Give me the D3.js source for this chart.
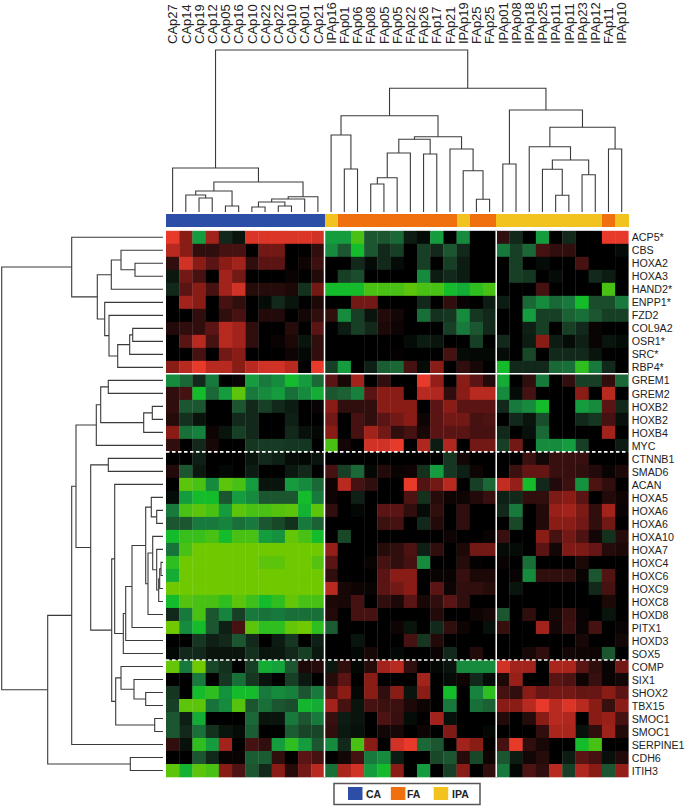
<!DOCTYPE html>
<html>
<head>
<meta charset="utf-8">
<script src="https://cdn.jsdelivr.net/npm/d3@7"></script>
<style>
  html, body { margin: 0; padding: 0; background: #fff; }
  svg { display: block; }
  text { font-family: "Liberation Sans", Arial, sans-serif; fill: #222; }
</style>
</head>
<body>
<div id="viz"></div>
<script>
const colLabels = ["CAp27","CAp14","CAp19","CAp12","CAp05","CAp16","CAp10","CAp22","CAp22","CAp10","CAp01","CAp21",
  "IPAp16","FAp01","FAp06","FAp08","FAp05","FAp05","FAp22","FAp26","FAp17","FAp21","IPAp19","FAp25","FAp25",
  "IPAp01","IPAp08","IPAp18","IPAp25","IPAp11","IPAp11","IPAp23","IPAp12","FAp11","IPAp10"];

const colGroups = ["CA","CA","CA","CA","CA","CA","CA","CA","CA","CA","CA","CA",
  "IPA","FA","FA","FA","FA","FA","FA","FA","FA","FA","IPA","FA","FA",
  "IPA","IPA","IPA","IPA","IPA","IPA","IPA","IPA","FA","IPA"];

const rowLabels = ["ACP5*","CBS","HOXA2","HOXA3","HAND2*","ENPP1*","FZD2","COL9A2","OSR1*","SRC*","RBP4*",
  "GREM1","GREM2","HOXB2","HOXB2","HOXB4","MYC",
  "CTNNB1","SMAD6","ACAN","HOXA5","HOXA6","HOXA6","HOXA10","HOXA7","HOXC4","HOXC6","HOXC9","HOXC8","HOXD8","PITX1","HOXD3","SOX5",
  "COMP","SIX1","SHOX2","TBX15","SMOC1","SMOC1","SERPINE1","CDH6","ITIH3"];

// expression per gene, red up / green down
const heatValues = [
  [5,3,-4,3.5,-1,-0.5,4.7,4.7,4.7,4.7,4.7,4.5, -4,-4,-6,-2,-2,-2.5,-0.7,-0.3,-4,0,-3.5,0,0, 1,-1,0,-4,0,-1,0,0,5,5],
  [4,3,1,1,1.5,1.5,0,2.5,2.5,0,0,1, -3.5,-2,-5,-2,-1,-1.5,0,-1.5,-1,-2,-1,0,0, -3,-1.5,-2.5,1.5,1,1,0,0,0,-0.3],
  [1,4.5,3,2,3,3.5,1,2,2,0,0.3,1.3, 0,0,-1,-0.3,-1,-0.3,0,-1.5,0,-1.5,-0.7,0,0, 0,-1.5,0,-0.3,0,0,1.5,0,0,0],
  [-0.6,2.5,1.5,0,3.5,2.5,0,0,0,0.2,0,0.7, 0,-1.5,-1.8,0,0,0,0,-3.5,-0.7,-1,-0.7,0,0, 0,-1.5,-1.3,0,-0.3,0,0,-1,-0.7,0],
  [-1,2,3,1.5,3.5,4.5,0.8,0.8,0.8,0.6,-1.2,2.5, -5,-5,-5,-6,-6,-6,-6.5,-6,-6,-5,-4.5,-5.5,-6, 0,0,0,1.5,0,0,0,0,-6,0],
  [0,3.5,3,0,1.5,1,0,-0.3,-1,-0.5,0,0.6, 0,0,2.5,2.5,0,0,0,-1,0,1,0.2,0,-0.7, -0.7,0,-2.5,-3.5,-2.5,-3,-5,-1.8,-1.8,-3],
  [0,0,1,0,1,1.5,0,0.7,0.7,0,0.4,1, 1,-3.5,-1.5,-0.5,0.7,0.4,0,-2.7,-1.2,-1.3,-3.5,-1.3,-1, 0,0,-4,-1.5,-1.5,-2.3,-2.7,-2,-1.5,-1.5],
  [0.7,1,1,2,4,3.5,1,0,0,0.8,0,2, 0,-0.7,-1.5,-1,0.6,0.3,0,0,0,-1.5,-3,-2,-1, 0,0,-0.8,-1.5,0,-1.5,-1,0.2,0,0],
  [0,2,4,1.5,4,3.5,1,0,0.2,0.6,-0.5,1, 0,0,0,0,0,0,-0.3,-0.7,-0.5,0,0,-1.5,0, -1,0,-0.7,3,-0.7,-0.3,-0.8,0.2,-0.5,-0.3],
  [0,0,1.5,0,2.5,3,0,0,0,0.3,-0.2,1, 0,0,0,0,0,0.1,0,0,0,1.5,-0.3,-0.2,-0.2, -0.3,0,-1.7,0,-1,-1,-1,-0.5,0,0],
  [3,4,5,4,4,3,4,4.5,4.5,4,0,5, -1.5,-4,0,-0.8,-2.2,-2.5,1.5,-0.3,3,0,1,0.5,0, -5,-1,-1,-1,-2.5,-2.7,-5.5,-3,-1,0],
  [-3.5,-2.5,-1,-3,0,0.2,-4,-3,-3.5,-5,-4,-2.5, 2,0.5,3.5,0,1,0,0,5,3.2,0,3,2,0.7, -4.5,0,1,-3,0,1,-1.5,-1.5,1,-2.5],
  [1,1.5,-5,-2.5,-4,-6.5,-3,-3.5,-4,-2.7,-3.5,-4.5, -2,-2.3,-3.2,2,3,3,0,4,3.8,1,3,4,4, -3.5,-0.3,1.5,0,0,0,3,0,4,0],
  [1,-2,-2,0,0,-2,-1,-1.5,-1,-0.7,0,0.2, 3,1,1,1,3,3,3,0,2,3,2,2,2, -1,-3,-3.5,-5,0,0,-4,-3.5,2,-1],
  [0.8,-1.2,-0.5,0,0,-1,-1,0,0,-0.8,0,0, 2.5,0,1.5,1,2,2.5,3,0.3,2,2.5,2.5,1.5,1.7, 0,-1,-0.5,-1.8,0,0,-1,-1.3,1.5,-0.4],
  [3,-2.7,-3.2,0.3,-0.5,-1.5,-1,0,0,-1,-0.4,-0.2, 3,0,1.5,3.5,2.5,1,1.5,0.5,2,2,2,1.5,1.5, -1,0,-0.4,-2.5,0,0,0,0,3.5,0],
  [1,0,-1,0.5,0,0,-1.3,-1.4,-1.4,-1.3,-1.3,0, -6,0.4,0,4.5,4.5,5,0,3.8,-0.7,3.8,0,2.5,2.5, -1.5,2.5,0,-3.5,-3.5,-4,-1.5,0,0,-0.7],
  [0,0,-0.8,0,0,0,-0.5,-1,-0.8,-0.3,-0.2,-0.5, 0,0,0,0,0,0,0,0,0,-1.3,0.4,0,0, 0,0,1.3,0.4,1.2,1.2,1.2,0,0,0],
  [0.7,-2,-0.6,0,-0.2,0,-0.7,0,0,-0.6,-1,0, 1.5,-1.5,-2.5,-0.2,0.7,0.2,0.3,-1.2,-4,-1.3,-0.8,0.3,0, 0,1.3,2.2,2.2,1.2,1.2,1,0.7,0.2,0.6],
  [0,-6.5,-6,-3.5,-6.5,-6,-4,-0.5,-0.5,-4,-3.5,-2.5, 0.3,4,1.5,1,0,0,5,1.8,2.5,4,0,-1.5,-2.5, 4.2,3.2,-5,-1,0.7,1.3,-3.7,1.7,1,0],
  [-0.3,-4,-5,-5,-2,-4,-3.5,-2,-2,-2,-5,-3, 0.3,0,-0.8,0,0,0,1.7,-1.2,0.8,0.3,0.3,0.7,1.2, -0.8,-1,1,1,2.7,3,2,0,0.7,0.3],
  [-3,-6,-6.5,-6,-4,-6.5,-6,-6,-6.3,-6.5,-4.7,-6.5, 1,0,-0.2,0,2,2,1,-0.3,1,0,1,0,0, -1,-3,0,0.7,3.3,3.5,2.7,1,3.5,0.2],
  [-2,-2,-3,-3,-3.3,-2.7,-3,-2,-1.7,-1.2,-3,-2.3, 0,0,0,0,1.3,1.5,0,-1,0.7,0,1,0,0, 0,-1.7,0,0.7,3,3,2.5,1,2.5,0],
  [-5,-5.7,-5.7,-6,-5,-6,-6,-4,-3.7,-6.7,-6,-5, 0,-1.7,0,0,0,0,0,0,0,0.3,0,0,0.2, 1.2,0,0,3,1.5,2.5,1.7,0.4,-1.2,0.8],
  [-2.8,-6,-7,-7,-7,-7,-7,-7,-7,-7,-7,-7, 3.2,0,0,0,0.8,1,1.7,-0.8,1,0,0.6,2.5,2.5, -0.3,-0.3,0,2,0.4,2.8,2.7,2.3,0.8,0.6],
  [-5.5,-7,-7,-7,-7,-7,-7,-6.5,-6.5,-7,-7,-6.3, 2,0,0,0.2,1.5,1,1.5,-3.5,0,0,0.8,0.1,0, 0.2,0,-2.7,0,0,0,0.6,0,0,0],
  [-4.5,-7,-7,-7,-7,-7,-7,-7,-7,-7,-7,-7, 1,0,0,0,2,3,3,0,0.2,0.2,1.2,0.6,0.6, 0,0.2,-3.5,1,1,1,0.2,-2,1.8,0],
  [-7,-7,-7,-7,-7,-7,-7,-7,-7,-7,-7,-7, 4,0.5,0.3,0.2,2,2.5,3,0,2,0.3,1,1,0.8, 0,-0.5,0,0,0,0,0,-1,1.5,0],
  [-5,-6.3,-6,-6,-5.5,-6.5,-5.8,-5,-5.5,-6.7,-6,-6, 0.6,0.5,1.5,0,1,0.6,2,0.5,1,2,1,0,0, 0,0,0,0,0,0,0,0,0.6,0],
  [-1,-3,-6,-2,-3.3,-1.5,-3,-2.8,-3,-2.7,-2.7,-2.7, 0.7,0,1.5,1.5,0,0,0,0,0.7,0,0,0.3,0.5, -2,0,1,0,0.5,1.2,0.2,0,-0.5,0],
  [-7,-3.5,-5,-2,-0.8,1.5,-6.5,-5.5,-5.5,-6.7,-7,-5.5, -2.2,0,0,0,0,0.3,-0.5,0,-1,1,0.3,0,-0.4, 1.2,0,0,3.5,0.4,1.3,0.2,1.5,0,0.2],
  [0,0,-1.3,-0.8,-1,-2,-1,0,-0.7,-1.3,0,-0.8, 0,0,-0.5,0,0,0,1.5,-1.3,0.7,0,0,0,0, 0,0,0,0,0,0,0.5,0,0,0.4],
  [-0.2,-1,-1,-0.5,-0.5,-0.5,-1.2,-0.5,-0.6,-1,-1.5,-0.6, 0,0,-0.2,0.5,0,-0.2,0,0,0.2,-1,0,0.7,0, 0,0,0.5,1,0,0.4,0.3,0.3,-2,0],
  [-6.7,-3,-7,-1.7,-1.2,0,-1.5,-4.5,-4.2,-2,0.6,0.8, -0.6,1,-0.2,0.8,3.5,4,1,0,-0.2,-0.5,-3.5,-3.5,-3.5, 4.5,3.5,3.5,0,3.7,3.7,2,1,0.2,2.5],
  [0,0,-3,0,-1.3,-2.7,-1.3,-0.5,0,-1.5,-0.6,0, 0.8,2,0,3,0,0,0,3.5,0,-0.3,0.3,-1,-0.3, 0.6,3.3,0,0,2,1.7,0.3,1.2,0.2,0.4],
  [-1.3,0,-5,-5.5,-3.7,-5,-5,-3,-3.5,-3.2,-2,-3, 1.7,3,-0.2,3,1,3,-0.5,3,0,-5,0,-3.3,-5.5, 1.5,1,3,2.3,2.5,2.5,2.2,2.3,3,2],
  [-1.5,-6.5,-6.5,-2.8,-3.5,-6.3,-2,-2.7,-2,-1.8,-4.8,-4.5, 3.5,1.5,-0.5,1.5,1.3,1.3,0.6,0.3,0,-3,0,-2.7,-2.3, 3,3,4,5,4,4.7,4,3,1.2,3],
  [-2,-0.8,-4.5,0,0,0,-2.5,-0.5,-0.5,-3,-2,-3, 1.2,-0.7,-0.5,0,1.7,1.2,-0.3,0,3.5,-0.4,0,0,0, 0.7,0,0.8,3,4,3.8,0,3,3.3,1.5],
  [-2,-1,-2.7,-1.2,-0.5,-0.3,-2.2,0,0,-2.2,-1.6,-1.6, 1,-0.6,-0.4,0,0.4,0.5,0,0.3,0,2.8,0,0,-0.2, 0,0,0,1,3.7,3.7,-0.4,1,3.4,0.7],
  [1,-0.4,-5.5,-4,3.5,0,1.5,1,-4,-5.5,-4,-2, -3.5,-1,-6,3,0,4.5,5,-2.5,-2,0,3.5,3,0, 1.5,5,1,0.5,0,0,-5,-6,0,0],
  [0,0,-2,-1,0.2,0.2,-2.2,-2.2,1,0,2,1.5, 0,0.4,1.5,-3,-3.5,-0.7,0,0,-1.7,-2,0.8,-1.7,0.3, -2,-0.7,0.4,0.8,0,-0.7,2,1.5,-0.4,0.7],
  [-6.5,-4.7,-6.5,-6,3,1.7,-2,-1,3,0.8,2.5,4, -2.7,3.7,4.5,-4,-5,3,0,-4,0,-1.5,3,0,1, -3,-0.2,1.7,1,4,-1.5,3.8,3,-2,3.2]
];

// [height, left, right], 0 = leaf, leaves run in display order
const colTree = [162,
  [44, 0,
    [30,
      [21, [17, 0, [14, 0, 0]], [6, 0, 0]],
      [15.3, [13, [10, [5, 0, 0], [6, 0, 0]], 0], 0]]],
  [123.7,
    [96.3,
      [77, 0, [43, 0, 0]],
      [75.3,
        [72.7, [59, [34.3, [28, 0, 0], 0], 0], [58, 0, 0]],
        [63, 0, [41.3, 0, [12.7, 0, 0]]]]],
    [102,
      [48, 0, 0],
      [84.7,
        [65.3, 0, [52, [42.7, 0, [16.7, 0, 0]], [37.3, 0, 0]]],
        [63, 0, 0]]]]];

const rowTree = [161.3,
  [91.3, 0,
    [65.7,
      [51.7, [42, 0, [28, 0, 0]], 0],
      [58.3, 0, [54, 0, [45.3, [33.3, [30.3, 0, 0], 0], 0]]]]],
  [115.3,
    [91.3,
      [87,
        [66.7, [62.3, [54.7, 0, 0], [19.3, [10.7, 0, 0], 0]], 0],
        [72.3,
          [54.7, 0, 0],
          [51.3,
            [48.3, 0,
              [39.7,
                [37.3,
                  [31,
                    [17.3,
                      [11.7, 0, [6.3, 0, 0]],
                      [15, [10.3, 0, [6.3, 0, [4.3, [3.3, [2, 0, 0], 0], 0]]], 0]],
                    0],
                  0],
                0]],
            [47.3,
              [42, 0, [29, 0, [17.3, 0, 0]]],
              [8.3, 0, 0]]]]],
      0],
    [32.7, 0, 0]]];

const legendGroups = ["CA", "FA", "IPA"];
const groupColors = { CA: "#2d4ea6", FA: "#f0700f", IPA: "#f2c31e" };
const solidBreaks = [11];        // row index with a solid white rule above it
const dashedBreaks = [17, 33];   // row index with a dashed white rule above it
const colBreaks = [12, 25];      // column index with a white rule left of it

const width = 685;
const height = 806;

const heatLeft = 166, heatRight = 628.3, heatTop = 230.8, heatBottom = 777;

const svg = d3.select("#viz")
  .append("svg")
  .attr("width", width)
  .attr("height", height);

const x = d3.scaleBand().domain(d3.range(colLabels.length)).range([heatLeft, heatRight]);
const y = d3.scaleBand().domain(d3.range(rowLabels.length)).range([heatTop, heatBottom]);

const color = d3.scaleLinear()
  .domain([-7, -6, -5, -4, -3, -2, -1, 0, 1, 2, 3, 4, 5])
  .range(["#70c800", "#48c014", "#14bc2c", "#149c3e", "#177a3c", "#1c5630", "#12281a",
    "#000000", "#300e0e", "#5a1414", "#8a1c16", "#b82a20", "#e83a2a"]);

// heat cells
svg.append("g")
  .selectAll("g")
  .data(heatValues)
  .join("g")
  .attr("transform", (d, i) => `translate(0,${y(i)})`)
  .selectAll("rect")
  .data((d) => d)
  .join("rect")
  .attr("x", (d, j) => x(j))
  .attr("width", x.bandwidth() + 0.3)
  .attr("height", y.bandwidth() + 0.3)
  .attr("fill", (d) => color(d));

// white separators
svg.append("g").selectAll("line")
  .data(colBreaks)
  .join("line")
  .attr("x1", (d) => x(d)).attr("x2", (d) => x(d))
  .attr("y1", heatTop).attr("y2", heatBottom)
  .attr("stroke", "#fff").attr("stroke-width", 1.5);

svg.append("g").selectAll("line")
  .data(solidBreaks)
  .join("line")
  .attr("x1", heatLeft).attr("x2", heatRight)
  .attr("y1", (d) => y(d)).attr("y2", (d) => y(d))
  .attr("stroke", "#fff").attr("stroke-width", 1.5);

svg.append("g").selectAll("line")
  .data(dashedBreaks)
  .join("line")
  .attr("x1", heatLeft).attr("x2", heatRight)
  .attr("y1", (d) => y(d)).attr("y2", (d) => y(d))
  .attr("stroke", "#fff").attr("stroke-width", 1.6)
  .attr("stroke-dasharray", "3.5,2.5");

// group colour bar
svg.append("g")
  .attr("shape-rendering", "crispEdges")
  .selectAll("rect")
  .data(colGroups)
  .join("rect")
  .attr("x", (d, j) => x(j))
  .attr("y", 213.5)
  .attr("width", x.bandwidth() + 0.6)
  .attr("height", 13.5)
  .attr("fill", (d) => groupColors[d]);

// dendrograms: walk the nested tree, leaves take the next band in order
function layoutTree(tree, pos, heightScale) {
  const segments = [];
  let leaf = 0;
  function walk(node) {
    if (node === 0) return { p: pos(leaf++), h: heightScale(0) };
    const a = walk(node[1]);
    const b = walk(node[2]);
    const h = heightScale(node[0]);
    segments.push({ a: a.p, b: b.p, ha: a.h, hb: b.h, h });
    return { p: (a.p + b.p) / 2, h };
  }
  walk(tree);
  return segments;
}

const colCenter = (i) => x(i) + x.bandwidth() / 2;
const rowCenter = (i) => y(i) + y.bandwidth() / 2;

const colHeight = d3.scaleLinear().domain([0, 162]).range([212, 50]);
const rowHeight = d3.scaleLinear().domain([0, 161.3]).range([163, 1.7]);

svg.append("g")
  .attr("fill", "none").attr("stroke", "#3a3a3a").attr("stroke-width", 1.1)
  .selectAll("path")
  .data(layoutTree(colTree, colCenter, colHeight))
  .join("path")
  .attr("d", (d) => `M${d.a},${d.ha}V${d.h}H${d.b}V${d.hb}`);

svg.append("g")
  .attr("fill", "none").attr("stroke", "#3a3a3a").attr("stroke-width", 1.1)
  .selectAll("path")
  .data(layoutTree(rowTree, rowCenter, rowHeight))
  .join("path")
  .attr("d", (d) => `M${d.ha},${d.a}H${d.h}V${d.b}H${d.hb}`);

// labels
svg.append("g").selectAll("text")
  .data(colLabels)
  .join("text")
  .attr("transform", (d, i) => `translate(${colCenter(i) + 4.7},44) rotate(-90)`)
  .attr("font-size", 13)
  .text((d) => d);

svg.append("g").selectAll("text")
  .data(rowLabels)
  .join("text")
  .attr("transform", (d, i) => `translate(631.7,${rowCenter(i)}) scale(0.93,1)`)
  .attr("dy", "0.36em")
  .attr("font-size", 11.5)
  .text((d) => d);

// legend
const legend = svg.append("g");

legend.append("rect")
  .attr("x", 334).attr("y", 783.5)
  .attr("width", 146).attr("height", 21)
  .attr("fill", "#fff").attr("stroke", "#555").attr("stroke-width", 1.5);

const legendX = d3.scalePoint().domain(legendGroups).range([348, 433.7]);
const legendText = { CA: 366, FA: 407, IPA: 452 };

legend.selectAll("rect.swatch")
  .data(legendGroups)
  .join("rect")
  .attr("class", "swatch")
  .attr("x", (d) => legendX(d)).attr("y", 787)
  .attr("width", 14.5).attr("height", 13)
  .attr("fill", (d) => groupColors[d]);

legend.selectAll("text")
  .data(legendGroups)
  .join("text")
  .attr("x", (d) => legendText[d]).attr("y", 798)
  .attr("font-size", 10.5).attr("font-weight", "bold")
  .text((d) => d);
</script>
</body>
</html>
